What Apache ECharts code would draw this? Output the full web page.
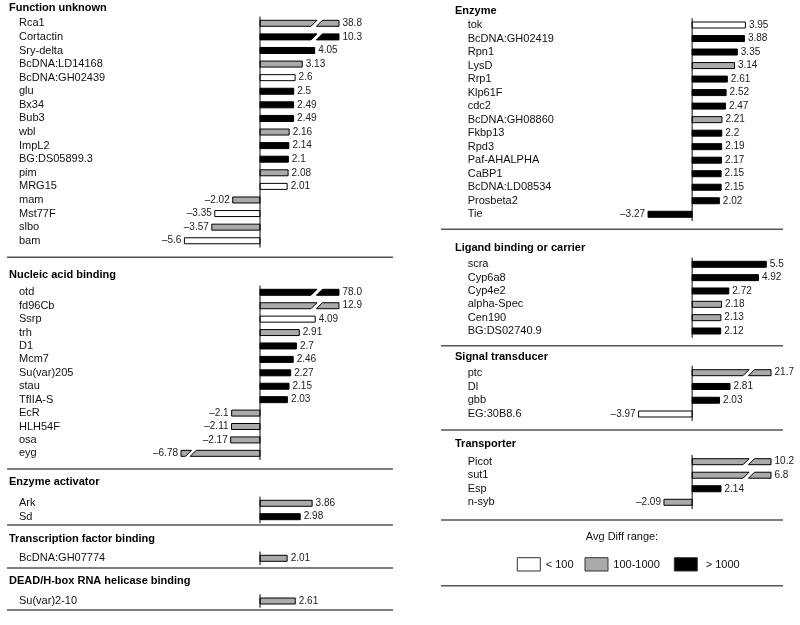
<!DOCTYPE html>
<html><head><meta charset="utf-8">
<script src="https://cdn.jsdelivr.net/npm/echarts@6/dist/echarts.min.js"></script>
<style>html,body{margin:0;padding:0;background:#fff}#c{width:800px;height:625px}</style>
</head><body><div id="c"></div>
<script>
// ---------- DATA ----------
// range code: 0 = "< 100" (white), 1 = "100-1000" (gray), 2 = "> 1000" (black)
const unknownGenes = ['Rca1','Cortactin','Sry-delta','BcDNA:LD14168','BcDNA:GH02439','glu','Bx34','Bub3','wbl','ImpL2','BG:DS05899.3','pim','MRG15','mam','Mst77F','slbo','bam'];
const unknownValues = [38.8,10.3,4.05,3.13,2.6,2.5,2.49,2.49,2.16,2.14,2.1,2.08,2.01,-2.02,-3.35,-3.57,-5.6];
const unknownRange = [1,2,2,1,0,2,2,2,1,2,2,1,0,1,0,1,0];

const nucleicGenes = ['otd','fd96Cb','Ssrp','trh','D1','Mcm7','Su(var)205','stau','TfIIA-S','EcR','HLH54F','osa','eyg'];
const nucleicValues = [78.0,12.9,4.09,2.91,2.7,2.46,2.27,2.15,2.03,-2.1,-2.11,-2.17,-6.78];
const nucleicRange = [2,1,0,1,2,2,2,2,2,1,1,1,1];

const activatorGenes = ['Ark','Sd'];
const activatorValues = [3.86,2.98];
const activatorRange = [1,2];

const tfGenes = ['BcDNA:GH07774'];
const tfValues = [2.01];
const tfRange = [1];

const helicaseGenes = ['Su(var)2-10'];
const helicaseValues = [2.61];
const helicaseRange = [1];

const enzymeGenes = ['tok','BcDNA:GH02419','Rpn1','LysD','Rrp1','Klp61F','cdc2','BcDNA:GH08860','Fkbp13','Rpd3','Paf-AHALPHA','CaBP1','BcDNA:LD08534','Prosbeta2','Tie'];
const enzymeValues = [3.95,3.88,3.35,3.14,2.61,2.52,2.47,2.21,2.2,2.19,2.17,2.15,2.15,2.02,-3.27];
const enzymeRange = [0,2,2,1,2,2,2,1,2,2,2,2,2,2,2];

const ligandGenes = ['scra','Cyp6a8','Cyp4e2','alpha-Spec','Cen190','BG:DS02740.9'];
const ligandValues = [5.5,4.92,2.72,2.18,2.13,2.12];
const ligandRange = [2,2,2,1,1,2];

const signalGenes = ['ptc','Dl','gbb','EG:30B8.6'];
const signalValues = [21.7,2.81,2.03,-3.97];
const signalRange = [1,2,2,0];

const transporterGenes = ['Picot','sut1','Esp','n-syb'];
const transporterValues = [10.2,6.8,2.14,-2.09];
const transporterRange = [1,1,2,1];

const legendLabels = ['< 100','100-1000','> 1000'];

// ---------- LAYOUT ----------
const FONT = "'Liberation Sans', Arial, Helvetica, sans-serif";
const FILLS = ['#ffffff','#aaaaaa','#000000'];
const UNIT = 13.5;           // px per unit
const XMIN = -10, XMAX = 8;
const COLS = [
  {zero:260, labelX:19, titleX:9, sepX1:7, sepX2:393},
  {zero:692.3, labelX:467.7, titleX:455, sepX1:441, sepX2:783}
];
const sections = [
  {title:'Function unknown', genes:unknownGenes, values:unknownValues, range:unknownRange, col:0, titleY:8, firstY:23.3, pitch:13.59, sepY:257.3},
  {title:'Nucleic acid binding', genes:nucleicGenes, values:nucleicValues, range:nucleicRange, col:0, titleY:275, firstY:292.3, pitch:13.42, sepY:469},
  {title:'Enzyme activator', genes:activatorGenes, values:activatorValues, range:activatorRange, col:0, titleY:481.7, firstY:503.3, pitch:13.4, sepY:525},
  {title:'Transcription factor binding', genes:tfGenes, values:tfValues, range:tfRange, col:0, titleY:539, firstY:558.3, pitch:13.4, sepY:568},
  {title:'DEAD/H-box RNA helicase binding', genes:helicaseGenes, values:helicaseValues, range:helicaseRange, col:0, titleY:580.7, firstY:601, pitch:13.4, sepY:610},
  {title:'Enzyme', genes:enzymeGenes, values:enzymeValues, range:enzymeRange, col:1, titleY:10.7, firstY:25, pitch:13.52, sepY:229.3},
  {title:'Ligand binding or carrier', genes:ligandGenes, values:ligandValues, range:ligandRange, col:1, titleY:247.7, firstY:264.3, pitch:13.34, sepY:345.7},
  {title:'Signal transducer', genes:signalGenes, values:signalValues, range:signalRange, col:1, titleY:356.7, firstY:372.7, pitch:13.77, sepY:430},
  {title:'Transporter', genes:transporterGenes, values:transporterValues, range:transporterRange, col:1, titleY:444.3, firstY:461.7, pitch:13.53, sepY:520}
];

function fmt(v){
  const a = Math.abs(v);
  const s = a >= 10 ? a.toFixed(1) : String(a);
  return (v < 0 ? '\u2013' : '') + s;
}

function renderItem(params, api){
  const v = api.value(0), k = api.value(1), r = api.value(2);
  const c0 = api.coord([0, k]);
  const band = api.size([0, 1])[1];
  const x0 = c0[0], cy = c0[1];
  const h = 6;
  const top = cy - h/2, bot = cy + h/2;
  const fill = FILLS[r];
  const sign = v < 0 ? -1 : 1;
  const children = [];
  let xe;
  const barStyle = {fill: fill, stroke:'#000', lineWidth:1};
  if (Math.abs(v) > 6) {
    const cap = 5.85;
    const g = sign > 0 ? [4.0, 4.4] : [4.95, 5.3];
    xe = api.coord([sign*cap, k])[0];
    const xa = api.coord([sign*g[0], k])[0];
    const xb = api.coord([sign*g[1], k])[0];
    const s = 3;
    children.push({type:'polygon', shape:{points:[[x0,top],[xa+s,top],[xa-s,bot],[x0,bot]]}, style:barStyle});
    children.push({type:'polygon', shape:{points:[[xe,top],[xb+s,top],[xb-s,bot],[xe,bot]]}, style:barStyle});
  } else {
    xe = api.coord([v, k])[0];
    children.push({type:'rect', shape:{x:Math.min(x0,xe), y:top, width:Math.abs(xe-x0), height:h}, style:barStyle});
  }
  children.push({type:'line', shape:{x1:x0, y1:cy-band/2, x2:x0, y2:cy+band/2}, style:{stroke:'#000', lineWidth:1}});
  children.push({type:'text', style:{
    text: fmt(v), x: sign > 0 ? xe + 3.5 : xe - 3, y: cy,
    font: '10px ' + FONT, fill:'#222',
    align: sign > 0 ? 'left' : 'right', verticalAlign:'middle',
    textAlign: sign > 0 ? 'left' : 'right', textVerticalAlign:'middle'
  }});
  return {type:'group', children: children};
}

const grids = [], xAxes = [], yAxes = [], series = [], graphics = [];
sections.forEach(function(sec, i){
  const col = COLS[sec.col];
  const left = col.zero - (0 - XMIN) * UNIT;
  const top = sec.firstY - sec.pitch/2;
  grids.push({left:left, top:top, width:(XMAX - XMIN)*UNIT, height:sec.genes.length*sec.pitch, containLabel:false});
  xAxes.push({gridIndex:i, type:'value', min:XMIN, max:XMAX, show:false});
  yAxes.push({gridIndex:i, type:'category', data:sec.genes, inverse:true,
    axisLine:{show:false, onZero:false}, axisTick:{show:false}, splitLine:{show:false},
    axisLabel:{interval:0, align:'left', margin:left - col.labelX, fontSize:11, fontFamily:FONT, color:'#111'}});
  series.push({type:'custom', xAxisIndex:i, yAxisIndex:i, clip:false, renderItem:renderItem,
    encode:{x:0, y:1},
    data: sec.values.map(function(v, k){ return [v, k, sec.range[k]]; })});
  graphics.push({type:'text', x:col.titleX, y:sec.titleY, style:{text:sec.title, font:'bold 11px ' + FONT, fill:'#000',
    verticalAlign:'middle', textVerticalAlign:'middle'}});
  graphics.push({type:'line', shape:{x1:col.sepX1, y1:sec.sepY, x2:col.sepX2, y2:sec.sepY}, style:{stroke:'#555', lineWidth:1.5}});
});

// legend
graphics.push({type:'text', x:622, y:537.3, style:{text:'Avg Diff range:', font:'11px ' + FONT, fill:'#111',
  align:'center', textAlign:'center', verticalAlign:'middle', textVerticalAlign:'middle'}});
const legendBoxX = [517.3, 585, 674.3];
const legendTextX = [545.7, 613.3, 705.7];
legendLabels.forEach(function(lbl, i){
  graphics.push({type:'rect', shape:{x:legendBoxX[i], y:557.7, width:23, height:13.3}, style:{fill:FILLS[i], stroke:'#333', lineWidth:1}});
  graphics.push({type:'text', x:legendTextX[i], y:564.5, style:{text:lbl, font:'11px ' + FONT, fill:'#111',
    verticalAlign:'middle', textVerticalAlign:'middle'}});
});
graphics.push({type:'line', shape:{x1:441, y1:585.7, x2:783, y2:585.7}, style:{stroke:'#555', lineWidth:1.5}});

const chart = echarts.init(document.getElementById('c'), null, {renderer:'canvas'});
chart.setOption({
  animation:false,
  backgroundColor:'#fff',
  grid:grids, xAxis:xAxes, yAxis:yAxes, series:series,
  graphic:{elements:graphics}
});
</script></body></html>
